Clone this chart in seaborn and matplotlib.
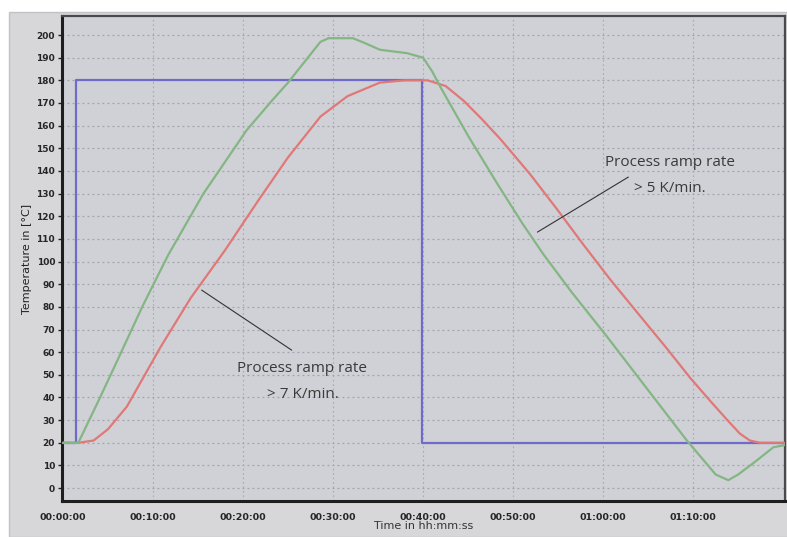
import numpy as np
import pandas as pd
import matplotlib
matplotlib.use("Agg")
import matplotlib.pyplot as plt
import seaborn as sns
from matplotlib.patches import Rectangle

## Data (time in minutes, temperature in °C)
setpoint_t = [0.0, 1.45, 1.45, 39.85, 39.85, 80.2]
setpoint_T = [20, 20, 180, 180, 20, 20]

fast_t = [0.0, 1.7, 4.0, 6.0, 8.8, 11.7, 15.6, 20.4, 23.2, 25.0, 27.0, 28.6,
          29.5, 32.2, 33.5, 35.2, 38.2, 40.0, 41.0, 42.0, 45.0, 48.3, 51.0,
          53.4, 56.5, 60.4, 69.3, 72.5, 73.9, 75.0, 77.0, 78.9, 80.2]
fast_T = [20, 20, 39, 56, 80, 103, 130, 158, 171, 179, 189, 197,
          198.6, 198.6, 196.5, 193.5, 192, 190, 184, 176.5, 155.5, 134, 117,
          103, 86.5, 67, 21, 6, 3.5, 6, 12, 18, 19]

slow_t = [0.0, 1.7, 3.4, 5.0, 7.1, 10.8, 14.2, 18.0, 21.7, 25.0, 28.6, 31.6,
          35.2, 38.0, 40.5, 42.5, 44.5, 46.5, 48.6, 51.9, 54.8, 57.8, 60.8,
          64.1, 67.0, 69.7, 72.0, 73.8, 75.2, 76.3, 77.4, 80.2]
slow_T = [20, 20, 21, 26, 36, 62, 84, 105, 127, 146, 164, 173,
          179, 180, 180, 177.5, 171, 163, 154, 138.5, 123.5, 107.5, 92,
          76, 62, 48.5, 38, 30, 24, 21, 20, 20]

y_ticks = list(range(0, 201, 10))
x_ticks = [0, 10, 20, 30, 40, 50, 60, 70]
x_labels = ["00:00:00", "00:10:00", "00:20:00", "00:30:00",
            "00:40:00", "00:50:00", "01:00:00", "01:10:00"]

df = pd.concat([
    pd.DataFrame({"t": setpoint_t, "T": setpoint_T, "series": "setpoint"}),
    pd.DataFrame({"t": slow_t, "T": slow_T, "series": "process"}),
    pd.DataFrame({"t": fast_t, "T": fast_T, "series": "heater"}),
], ignore_index=True)

sns.set_theme(style="white")
plt.rcParams["font.family"] = ["DejaVu Sans"]

fig = plt.figure(figsize=(7.87, 5.37), dpi=100, facecolor="white")
fig.patches.append(Rectangle((9 / 787, 0), 1, 1 - 12 / 537, transform=fig.transFigure,
                             facecolor="#d7d7d9", edgecolor="#c2c2c4", lw=1, zorder=-10))
ax = fig.add_axes([62 / 787, 1 - 501 / 537, (785 - 62) / 787, (501 - 16) / 537])
ax.set_facecolor("#d0d1d6")

## dotted grid
for yv in y_ticks:
    ax.axhline(yv, color="#a2a2aa", lw=0.9, ls=(0, (1.5, 2.5)), zorder=0)
for xv in x_ticks:
    ax.axvline(xv, color="#a8a8b0", lw=0.8, ls=(0, (1.5, 2.5)), zorder=0)

palette = {"setpoint": "#6e6cc8", "process": "#e07878", "heater": "#84b684"}
for name in ["setpoint", "process", "heater"]:
    sub = df[df["series"] == name]
    sns.lineplot(data=sub, x="t", y="T", ax=ax, color=palette[name], lw=1.6,
                 sort=False, estimator=None, legend=False, zorder=3,
                 solid_joinstyle="round", solid_capstyle="round")

ax.set_xlim(-0.11, 80.2)
ax.set_ylim(-5.7, 208.4)
ax.set_yticks(y_ticks)
ax.set_yticklabels([str(v) for v in y_ticks], fontsize=6.5, fontweight="bold")
ax.set_xticks(x_ticks)
ax.set_xticklabels(x_labels, fontsize=6.8, fontweight="bold")
ax.tick_params(axis="y", length=3, width=1, color="#222222", pad=2, direction="out", left=True)
ax.tick_params(axis="x", length=0, pad=9)

for side in ["left", "bottom"]:
    ax.spines[side].set_color("#1e1e1e")
    ax.spines[side].set_linewidth(2.2)
for side in ["top", "right"]:
    ax.spines[side].set_color("#4a4a4e")
    ax.spines[side].set_linewidth(1.6)

ax.set_xlabel("Time in hh:mm:ss", fontsize=8, color="#333333", labelpad=-1)
ax.set_ylabel("Temperature in [°C]", fontsize=8, color="#222222", labelpad=3)

## annotations: leader lines and text
ann_font = dict(family=["Open Sans", "DejaVu Sans"], fontsize=11, color="#3a3a3a",
                ha="center", va="center", linespacing=2.0)
line_style = dict(arrowstyle="-", color="#333333", lw=0.8, shrinkA=0, shrinkB=0)
ax.annotate("", xy=(15.4, 87.4), xytext=(25.4, 60.9), arrowprops=line_style)
ax.text(26.6, 47.2, "Process ramp rate\n> 7 K/min.", **ann_font)
ax.annotate("", xy=(52.7, 113), xytext=(62.8, 137.3), arrowprops=line_style)
ax.text(67.4, 138.2, "Process ramp rate\n> 5 K/min.", **ann_font)

fig.savefig("out.png", dpi=100, facecolor=fig.get_facecolor())
